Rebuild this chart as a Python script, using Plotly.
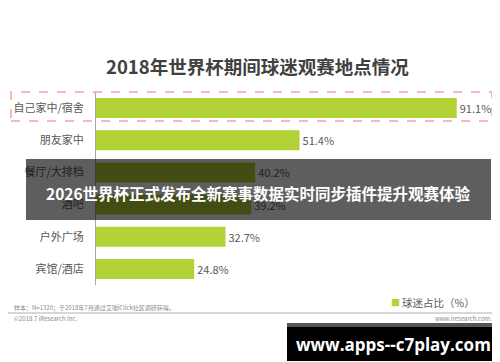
import plotly.graph_objects as go

categories = ["自己家中/宿舍", "朋友家中", "餐厅/大排档", "酒吧", "户外广场", "宾馆/酒店"]
values = [91.1, 51.4, 40.2, 39.2, 32.7, 24.8]
series_name = "球迷占比（%）"
title_text = "2018年世界杯期间球迷观赛地点情况"
note_text = "样本：N=1320；于2018年7月通过艾瑞iClick社区调研获得。"
copyright_text = "©2018.7 iResearch Inc."
site_text = "www.iresearch.com.cn"
banner_text = "2026世界杯正式发布全新赛事数据实时同步插件提升观赛体验"
watermark_text = "www.apps--c7play.com"

W, H = 500, 362
L, R, T, B = 88, 16, 84, 85
PW, PH = W - L - R, H - T - B

def px(x):
    return (x - L) / PW

def py(y):
    return (H - B - y) / PH

FONT = "Noto Sans CJK SC, Microsoft YaHei, sans-serif"
GREEN = "#b2d235"

fig = go.Figure(go.Bar(
    x=values, y=categories, orientation="h",
    marker=dict(color=GREEN, line=dict(width=0)),
    text=[f"{v:.1f}%" for v in values], textposition="outside",
    textfont=dict(size=11, color="#595959", family=FONT),
    cliponaxis=False, constraintext="none", name=series_name,
))

fig.update_layout(
    width=W, height=H, margin=dict(l=L, r=R, t=T, b=B, pad=0, autoexpand=False),
    paper_bgcolor="white", plot_bgcolor="white", showlegend=False,
    bargap=0.38, font=dict(family=FONT),
    xaxis=dict(range=[0, 100], visible=False, fixedrange=True, automargin=False),
    yaxis=dict(categoryorder="array", categoryarray=categories, autorange="reversed",
               showgrid=False, zeroline=False, showline=True, linecolor="#a6a6a6", linewidth=1,
               ticks="", ticklabelstandoff=9, automargin=False,
               tickfont=dict(size=11, color="#595959", family=FONT)),
)

shapes = [
    dict(type="rect", xref="paper", yref="paper", x0=px(3), x1=px(484), y0=py(113), y1=py(84),
         line=dict(color="#f4a3a8", width=1.5, dash="dash"), fillcolor="rgba(0,0,0,0)", layer="above"),
    dict(type="line", xref="paper", yref="paper", x0=px(0), x1=px(493), y0=py(305), y1=py(305),
         line=dict(color="#b0b0b0", width=1), layer="above"),
    dict(type="rect", xref="paper", yref="paper", x0=px(18), x1=px(483), y0=py(212), y1=py(151),
         line=dict(width=0), fillcolor="rgba(0,0,0,0.63)", layer="above"),
    dict(type="rect", xref="paper", yref="paper", x0=px(279), x1=px(491), y0=py(319), y1=py(315),
         line=dict(width=0), fillcolor="#555555", layer="above"),
    dict(type="rect", xref="paper", yref="paper", x0=px(279), x1=px(491), y0=py(353), y1=py(319),
         line=dict(width=0), fillcolor="#000000", layer="above"),
]
fig.update_layout(shapes=shapes)

ann = [
    dict(text=f"<b>{title_text}</b>", x=px(249), y=py(58), xanchor="center", yanchor="middle",
         font=dict(size=18.5, color="#404040", family=FONT)),
    dict(text="■", x=px(387), y=py(294), xanchor="center", yanchor="middle",
         font=dict(size=9, color=GREEN, family=FONT)),
    dict(text=series_name, x=px(392), y=py(294), xanchor="left", yanchor="middle",
         font=dict(size=10.5, color="#595959", family=FONT)),
    dict(text=note_text, x=px(4), y=py(299), xanchor="left", yanchor="middle",
         font=dict(size=6, color="#8a8a8a", family=FONT)),
    dict(text=copyright_text, x=px(4), y=py(310), xanchor="left", yanchor="middle",
         font=dict(size=6, color="#8a8a8a", family=FONT)),
    dict(text=site_text, x=px(493), y=py(310), xanchor="right", yanchor="middle",
         font=dict(size=6, color="#8a8a8a", family=FONT)),
    dict(text=f"<b>{banner_text}</b>", x=px(250), y=py(185), xanchor="center", yanchor="middle",
         font=dict(size=15.5, color="white", family=FONT)),
    dict(text=f"<b>{watermark_text}</b>", x=px(385), y=py(336), xanchor="center", yanchor="middle",
         font=dict(size=17, color="white", family="Open Sans, DejaVu Sans, sans-serif")),
]
for a in ann:
    a.update(xref="paper", yref="paper", showarrow=False)
fig.update_layout(annotations=ann)

fig.write_html("out.html", config={"displayModeBar": False})
